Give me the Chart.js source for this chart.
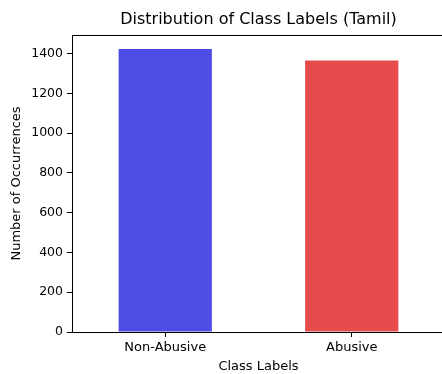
<!DOCTYPE html>
<html>
<head>
<meta charset="utf-8">
<script src="https://cdn.jsdelivr.net/npm/chart.js@4"></script>
<style>
  html, body { margin: 0; padding: 0; background: #fff; overflow: hidden; }
  #wrap { width: 446px; height: 374px; }
</style>
</head>
<body>
<div id="wrap"><canvas id="chart"></canvas></div>
<script>
var categories = ["Non-Abusive", "Abusive"];
var counts = [1424, 1366];
var barColors = ["#4d4de6", "#e64c4c"];
var yTicks = [0, 200, 400, 600, 800, 1000, 1200, 1400];
var chartTitle = "Distribution of Class Labels (Tamil)";

var font = "'DejaVu Sans', sans-serif";

// matplotlib-style box around the plot area, title centred over the axes
var frame = {
    id: "frame",
    afterDraw: function(chart){
        var a = chart.chartArea, ctx = chart.ctx;
        ctx.save();
        ctx.strokeStyle = "#000";
        ctx.lineWidth = 1;
        ctx.strokeRect(Math.round(a.left) + 0.5, Math.round(a.top) + 0.5,
            Math.round(a.right - a.left), Math.round(a.bottom - a.top));
        ctx.fillStyle = "#000";
        ctx.font = "16px " + font;
        ctx.textAlign = "center";
        ctx.textBaseline = "middle";
        ctx.fillText(chartTitle, (a.left + a.right) / 2, 20);
        ctx.restore();
    }
};

var ctx = document.getElementById("chart").getContext("2d");
new Chart(ctx, {
    type: "bar",
    data: {
        labels: categories,
        datasets: [{
            data: counts,
            backgroundColor: barColors,
            borderWidth: 0,
            categoryPercentage: 1,
            barPercentage: 0.5
        }]
    },
    plugins: [frame],
    options: {
        responsive: true,
        maintainAspectRatio: false,
        animation: false,
        layout: { padding: { left: 0, right: 1, top: 35, bottom: 0 } },
        plugins: {
            legend: { display: false },
            tooltip: { enabled: false },
            title: { display: false }
        },
        scales: {
            x: {
                offset: true,
                grid: { display: true, drawOnChartArea: false, offset: false, tickLength: 5, color: "#000", tickColor: "#000" },
                border: { display: true, color: "#000" },
                ticks: { color: "#000", font: { family: font, size: 13 }, padding: 3 },
                title: { display: true, text: "Class Labels", color: "#000", font: { family: font, size: 13 }, padding: { top: 1, bottom: 0 } },
                afterFit: function(s){ s.height = 42; }
            },
            y: {
                min: 0,
                max: 1494,
                grid: { display: true, drawOnChartArea: false, tickLength: 5, color: "#000", tickColor: "#000" },
                border: { display: true, color: "#000" },
                ticks: {
                    color: "#000", font: { family: font, size: 12.5 }, padding: 4,
                    callback: function(v){ return String(v); }
                },
                afterBuildTicks: function(s){
                    s.ticks = yTicks.map(function(v){ return { value: v }; });
                },
                title: { display: true, text: "Number of Occurrences", color: "#000", font: { family: font, size: 13 }, padding: { top: 9, bottom: 0 } },
                afterFit: function(s){ s.width = 72; }
            }
        }
    }
});
</script>
</body>
</html>
